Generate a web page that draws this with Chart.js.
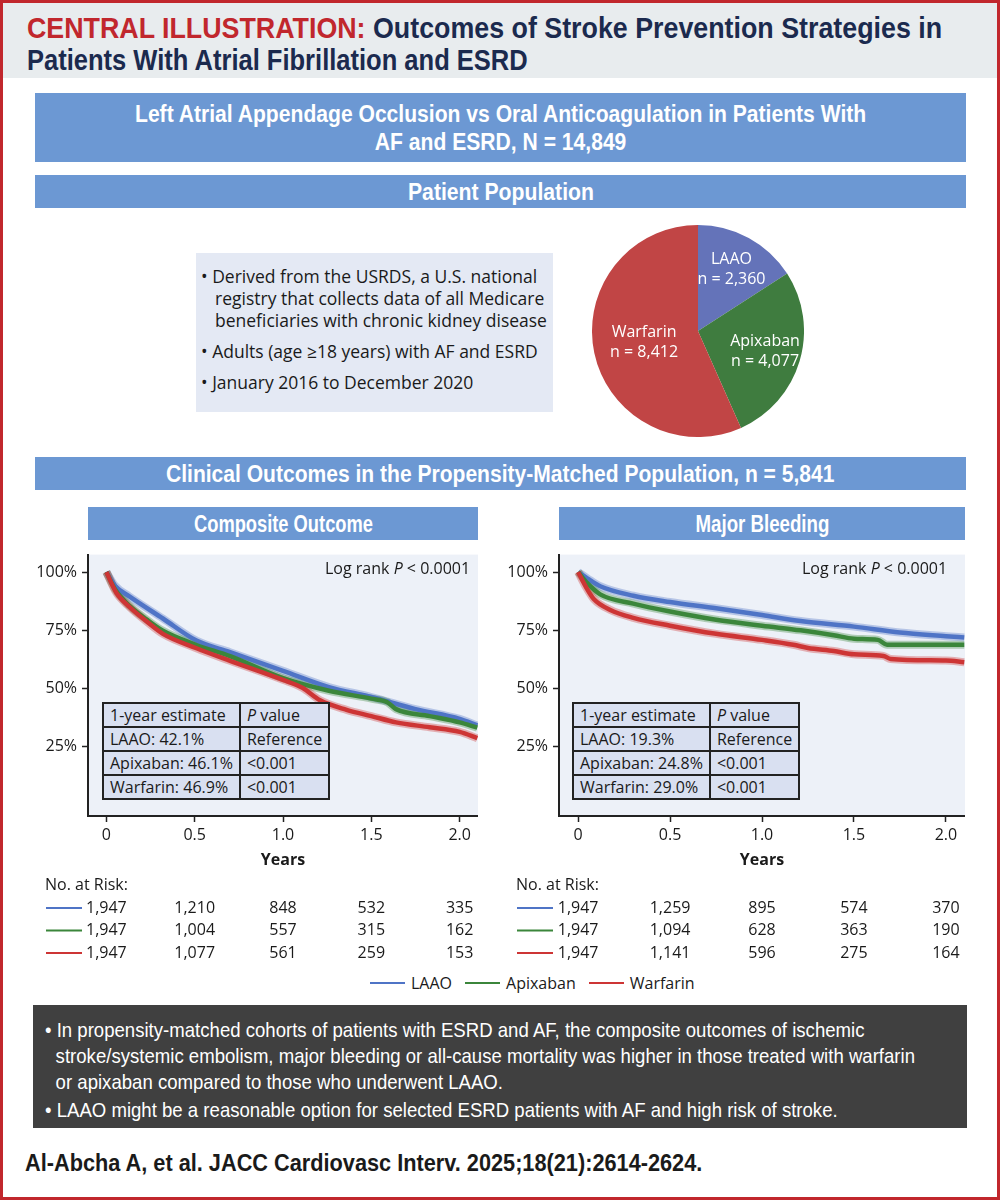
<!DOCTYPE html>
<html>
<head>
<meta charset="utf-8">
<title>Central Illustration - LAAO vs OAC in AF and ESRD</title>
<script src="https://cdn.jsdelivr.net/npm/chart.js@4.4.0/dist/chart.umd.min.js"></script>
<style>
  :root {
    --frame-red: #c1272d;
    --navy: #1b2a4e;
    --box-blue: #6c98d3;
    --font-narrow: "Liberation Sans", Arial, sans-serif;
    --font-main: "Open Sans", "Noto Sans", sans-serif;
  }
  html, body { margin: 0; padding: 0; background: #fff; }
  #page { position: relative; width: 1000px; height: 1200px; overflow: hidden; font-family: var(--font-main); color: #1a1a1a; }
  .abs { position: absolute; }
  .fit { display: inline-block; white-space: nowrap; width: max-content; }
  #frame { left: 0; top: 0; width: 1000px; height: 1200px; box-sizing: border-box; border: 3px solid var(--frame-red); z-index: 10; pointer-events: none; }
  #header { left: 0; top: 0; width: 1000px; height: 78px; background: #e8ecee; }
  .title-line { left: 27px; font: bold 30px/31px var(--font-narrow); color: var(--navy); transform-origin: left top; }
  .title-line .red { color: var(--frame-red); }
  .blue-box { background: var(--box-blue); color: #fff; font: bold 23px/28px var(--font-narrow); text-align: center; display: flex; align-items: center; justify-content: center; white-space: nowrap; }
  .blue-box .fit { transform-origin: center center; }
  #bullets { left: 196px; top: 253px; width: 357px; height: 159px; background: #e4e9f4; font-size: 17.5px; line-height: 22px; box-sizing: border-box; padding: 12px 0 0 5px; }
  #bullets div { white-space: nowrap; padding-left: 14px; text-indent: -14px; }
  #bullets div + div { margin-top: 9px; }
  .logrank { font-size: 16px; line-height: 22px; white-space: nowrap; }
  table.inset { position: absolute; border-collapse: collapse; width: 223px; font-size: 16px; background: #d9e0f1; }
  table.inset td { border: 2px solid #222; height: 22px; padding: 0 6px; white-space: nowrap; line-height: 20px; }
  table.inset td:first-child { width: 124px; }
  #legend { left: 370px; top: 972px; display: flex; align-items: center; font-size: 16px; white-space: nowrap; }
  #legend .swatch { display: inline-block; width: 35px; height: 2px; margin-right: 6px; }
  #legend .item { display: flex; align-items: center; margin-right: 13px; }
  #summary { left: 33px; top: 1005px; width: 934px; height: 123px; background: #404040; color: #fff; font: 21px/26px var(--font-narrow); }
  #summaryText { position: absolute; left: 12px; top: 12px; transform-origin: left top; }
  #summaryText div { padding-left: 12px; text-indent: -12px; }
  #summaryText div + div { margin-top: 2px; }
  #citation { left: 25px; top: 1149px; font: bold 24px/28px var(--font-narrow); color: #1a1a1a; transform-origin: left top; }
</style>
</head>
<body>
<div id="page">
  <div class="abs" id="header"></div>
  <div class="abs fit title-line" style="top:12px;" data-fit="915"><span class="red">CENTRAL ILLUSTRATION:</span> Outcomes of Stroke Prevention Strategies in</div>
  <div class="abs fit title-line" style="top:44px;" data-fit="501">Patients With Atrial Fibrillation and ESRD</div>

  <div class="abs blue-box" style="left:35px; top:93px; width:931px; height:69px;"><span class="fit" data-fit="731">Left Atrial Appendage Occlusion vs Oral Anticoagulation in Patients With<br>AF and ESRD, N = 14,849</span></div>
  <div class="abs blue-box" style="left:35px; top:175px; width:931px; height:33px;"><span class="fit" data-fit="186">Patient Population</span></div>

  <div class="abs" id="bullets">
    <div>• Derived from the USRDS, a U.S. national<br>registry that collects data of all Medicare<br>beneficiaries with chronic kidney disease</div>
    <div>• Adults (age ≥18 years) with AF and ESRD</div>
    <div>• January 2016 to December 2020</div>
  </div>

  <div class="abs" style="left:592px; top:225px; width:212px; height:212px;"><canvas id="pieChart"></canvas></div>

  <div class="abs blue-box" style="left:35px; top:457px; width:931px; height:33px;"><span class="fit" data-fit="668">Clinical Outcomes in the Propensity-Matched Population, n = 5,841</span></div>
  <div class="abs blue-box" style="left:88px; top:507px; width:390px; height:33px;"><span class="fit" data-fit="179">Composite Outcome</span></div>
  <div class="abs blue-box" style="left:559px; top:507px; width:406px; height:33px;"><span class="fit" data-fit="134">Major Bleeding</span></div>

  <div class="abs" style="left:30px; top:540px; width:448px; height:425px;"><canvas id="compositeChart"></canvas></div>
  <div class="abs" style="left:500px; top:540px; width:465px; height:425px;"><canvas id="bleedingChart"></canvas></div>

  <div class="abs logrank" style="left:325px; top:557px;">Log rank <i>P</i> &lt; 0.0001</div>
  <div class="abs logrank" style="left:802px; top:557px;">Log rank <i>P</i> &lt; 0.0001</div>

  <table class="inset" id="compositeTable" style="left:102px; top:702px;"></table>
  <table class="inset" id="bleedingTable" style="left:572px; top:702px;"></table>

  <div class="abs" id="legend"></div>

  <div class="abs" id="summary">
    <div class="fit" id="summaryText" data-fit="870">
      <div>• In propensity-matched cohorts of patients with ESRD and AF, the composite outcomes of ischemic<br>stroke/systemic embolism, major bleeding or all-cause mortality was higher in those treated with warfarin<br>or apixaban compared to those who underwent LAAO.</div>
      <div>• LAAO might be a reasonable option for selected ESRD patients with AF and high risk of stroke.</div>
    </div>
  </div>

  <div class="abs fit" id="citation" data-fit="677">Al-Abcha A, et al. JACC Cardiovasc Interv. 2025;18(21):2614-2624.</div>
  <div class="abs" id="frame"></div>
</div>

<script>
// Patient population (pie)
const groupNames = ['LAAO', 'Apixaban', 'Warfarin'];
const groupCounts = [2360, 4077, 8412];

// Kaplan-Meier curves (years, % event-free)
const compLaaoT = [0, 0.05, 0.13, 0.32, 0.51, 0.70, 1.0, 1.26, 1.5, 1.75, 2.0, 2.1];
const compLaaoV = [100, 94, 89.5, 80, 70.5, 65.5, 57.5, 50.5, 46.2, 41, 36.8, 34];
const compApixT = [0, 0.05, 0.13, 0.227, 0.32, 0.51, 0.70, 1.0, 1.26, 1.5, 1.59, 1.64, 1.83, 2.0, 2.1];
const compApixV = [100, 92.5, 85.5, 79.6, 74.7, 68.6, 63.8, 54.3, 48.9, 45.5, 44, 41, 38, 35.3, 33];
const compWarfT = [0, 0.057, 0.132, 0.227, 0.32, 0.51, 0.70, 1.0, 1.11, 1.21, 1.36, 1.5, 1.64, 1.83, 2.0, 2.1];
const compWarfV = [100, 91, 84.9, 78.8, 73.4, 67.2, 61.8, 53.6, 50.2, 44.8, 40.7, 38, 35.3, 33.2, 31.2, 28.5];

const bleedLaaoT = [0, 0.05, 0.12, 0.30, 0.5, 0.75, 1.0, 1.21, 1.5, 1.75, 2.0, 2.1];
const bleedLaaoV = [100, 97.3, 93.9, 89.8, 87.1, 84.4, 81.5, 78.9, 76.5, 74, 72.4, 71.8];
const bleedApixT = [0, 0.05, 0.12, 0.30, 0.5, 0.75, 1.0, 1.21, 1.39, 1.5, 1.63, 1.68, 2.0, 2.1];
const bleedApixV = [100, 95.2, 90.4, 86.4, 83, 79.5, 76.9, 74.9, 72.8, 71.3, 70.8, 68.7, 68.7, 68.7];
const bleedWarfT = [0, 0.04, 0.085, 0.175, 0.30, 0.5, 0.75, 1.0, 1.17, 1.25, 1.39, 1.5, 1.66, 1.70, 2.0, 2.1];
const bleedWarfV = [100, 93.9, 88.4, 83.7, 80.3, 76.9, 73.4, 70.8, 68.7, 67.3, 66, 64.6, 63.9, 62.6, 61.9, 61.2];

// Axis ticks
const xTickValues = [0, 0.5, 1.0, 1.5, 2.0];
const yTickValues = [25, 50, 75, 100];

// Numbers at risk (at the x ticks)
const compRiskLaao = [1947, 1210, 848, 532, 335];
const compRiskApix = [1947, 1004, 557, 315, 162];
const compRiskWarf = [1947, 1077, 561, 259, 153];
const bleedRiskLaao = [1947, 1259, 895, 574, 370];
const bleedRiskApix = [1947, 1094, 628, 363, 190];
const bleedRiskWarf = [1947, 1141, 596, 275, 164];

// Inset tables
const compEstimates = [42.1, 46.1, 46.9];
const bleedEstimates = [19.3, 24.8, 29.0];
const pValues = ['Reference', '<0.001', '<0.001'];

const pieColors = ['#6473b9', '#3f7c3f', '#c14545'];
const lineColors = ['#4f74c6', '#3b863b', '#cd3535'];
const bandColors = ['rgba(79,116,198,0.35)', 'rgba(59,134,59,0.35)', 'rgba(205,53,53,0.35)'];
const FONT = '"Open Sans", "Noto Sans", sans-serif';

const toPoints = (t, v) => t.map((x, i) => ({ x, y: v[i] }));

// light panel behind the curves
const plotBackground = {
  id: 'plotBackground',
  beforeDraw(chart) {
    const { ctx, chartArea: a } = chart;
    ctx.save();
    ctx.fillStyle = '#edf1f8';
    ctx.fillRect(a.left, a.top, a.right - a.left, a.bottom - a.top);
    ctx.restore();
  }
};

// "No. at Risk" table under the x axis, columns follow the x scale
const riskTable = {
  id: 'riskTable',
  afterDraw(chart, args, opts) {
    const { ctx, chartArea: a, scales: { x } } = chart;
    ctx.save();
    ctx.font = `16px ${FONT}`;
    ctx.fillStyle = '#1a1a1a';
    ctx.textBaseline = 'middle';
    ctx.textAlign = 'left';
    ctx.fillText('No. at Risk:', a.left - 43, a.bottom + 69);
    opts.rows.forEach((row, i) => {
      const y = a.bottom + 92 + i * 22.5;
      ctx.strokeStyle = lineColors[i];
      ctx.lineWidth = 2;
      ctx.beginPath();
      ctx.moveTo(a.left - 42, y);
      ctx.lineTo(a.left - 6, y);
      ctx.stroke();
      ctx.textAlign = 'center';
      xTickValues.forEach((t, j) => {
        ctx.fillText(row[j].toLocaleString('en-US'), x.getPixelForValue(t), y);
      });
    });
    ctx.restore();
  }
};

function kmChart(id, curves, riskRows, yAxisWidth) {
  const datasets = [];
  curves.forEach((pts, i) => {
    datasets.push({ data: pts, borderColor: bandColors[i], borderWidth: 8, order: 10 - i });
  });
  curves.forEach((pts, i) => {
    datasets.push({ data: pts, borderColor: lineColors[i], borderWidth: 4.5, order: 5 - i });
  });

  return new Chart(document.getElementById(id), {
    type: 'line',
    data: { datasets },
    options: {
      responsive: true,
      maintainAspectRatio: false,
      animation: false,
      layout: { padding: { top: 0, right: 0, bottom: 95, left: 0 } },
      elements: { point: { radius: 0 }, line: { cubicInterpolationMode: 'monotone', fill: false } },
      plugins: { legend: { display: false }, tooltip: { enabled: false }, riskTable: { rows: riskRows } },
      scales: {
        x: {
          type: 'linear',
          min: -0.104,
          max: 2.104,
          afterBuildTicks: ax => { ax.ticks = xTickValues.map(value => ({ value })); },
          afterFit: ax => { ax.height = 54; },
          ticks: {
            callback: v => (v === 0 ? '0' : v.toFixed(1)),
            font: { family: FONT, size: 16 },
            color: '#1a1a1a',
            padding: 4,
            maxRotation: 0
          },
          grid: { drawOnChartArea: false, tickLength: 6, tickColor: '#222', tickWidth: 1.5 },
          border: { color: '#222', width: 2 },
          title: { display: true, text: 'Years', font: { family: FONT, size: 16, weight: 'bold' }, color: '#1a1a1a', padding: 0 }
        },
        y: {
          min: -5,
          max: 107.5,
          afterBuildTicks: ax => { ax.ticks = yTickValues.map(value => ({ value })); },
          afterFit: ax => { ax.width = yAxisWidth; },
          ticks: {
            callback: v => v + '%',
            font: { family: FONT, size: 16 },
            color: '#1a1a1a',
            padding: 5
          },
          grid: { drawOnChartArea: false, tickLength: 6, tickColor: '#222', tickWidth: 1.5 },
          border: { color: '#222', width: 2 }
        }
      }
    },
    plugins: [plotBackground, riskTable]
  });
}

// white two-line labels inside the pie slices
const pieLabelRadius = [0.66, 0.66, 0.52];
const pieLabels = {
  id: 'pieLabels',
  afterDatasetsDraw(chart) {
    const { ctx } = chart;
    const arcs = chart.getDatasetMeta(0).data;
    ctx.save();
    ctx.font = `16px ${FONT}`;
    ctx.fillStyle = '#fff';
    ctx.textAlign = 'center';
    ctx.textBaseline = 'middle';
    arcs.forEach((arc, i) => {
      const mid = (arc.startAngle + arc.endAngle) / 2;
      const r = arc.outerRadius * pieLabelRadius[i];
      const cx = arc.x + Math.cos(mid) * r;
      const cy = arc.y + Math.sin(mid) * r;
      ctx.fillText(groupNames[i], cx, cy - 10);
      ctx.fillText('n = ' + groupCounts[i].toLocaleString('en-US'), cx, cy + 10);
    });
    ctx.restore();
  }
};

function initPie() {
  new Chart(document.getElementById('pieChart'), {
    type: 'pie',
    data: {
      labels: groupNames,
      datasets: [{ data: groupCounts, backgroundColor: pieColors, borderWidth: 0 }]
    },
    options: {
      responsive: true,
      maintainAspectRatio: false,
      animation: false,
      layout: { padding: 0 },
      plugins: { legend: { display: false }, tooltip: { enabled: false } }
    },
    plugins: [pieLabels]
  });
}

function fillInset(tableId, estimates) {
  const rows = [`<tr><td>1-year estimate</td><td><i>P</i> value</td></tr>`];
  groupNames.forEach((name, i) => {
    rows.push(`<tr><td>${name}: ${estimates[i].toFixed(1)}%</td><td>${pValues[i]}</td></tr>`);
  });
  document.getElementById(tableId).innerHTML = rows.join('');
}

function buildLegend() {
  document.getElementById('legend').innerHTML = groupNames.map((name, i) => `
    <span class="item"><span class="swatch" style="background:${lineColors[i]}"></span>${name}</span>
  `).join('');
}

// no condensed face installed: squeeze the narrow-font texts to the widths they take in the original
function squeezeNarrowText() {
  document.querySelectorAll('.fit[data-fit]').forEach(el => {
    el.style.transform = 'none';
    const w = el.scrollWidth;
    if (w > 0) el.style.transform = `scaleX(${(+el.dataset.fit / w).toFixed(4)})`;
  });
}

document.addEventListener('DOMContentLoaded', () => {
  initPie();
  kmChart('compositeChart',
    [toPoints(compLaaoT, compLaaoV), toPoints(compApixT, compApixV), toPoints(compWarfT, compWarfV)],
    [compRiskLaao, compRiskApix, compRiskWarf], 58);
  kmChart('bleedingChart',
    [toPoints(bleedLaaoT, bleedLaaoV), toPoints(bleedApixT, bleedApixV), toPoints(bleedWarfT, bleedWarfV)],
    [bleedRiskLaao, bleedRiskApix, bleedRiskWarf], 59);
  fillInset('compositeTable', compEstimates);
  fillInset('bleedingTable', bleedEstimates);
  buildLegend();
  squeezeNarrowText();
  document.fonts.ready.then(squeezeNarrowText);
});
</script>
</body>
</html>
